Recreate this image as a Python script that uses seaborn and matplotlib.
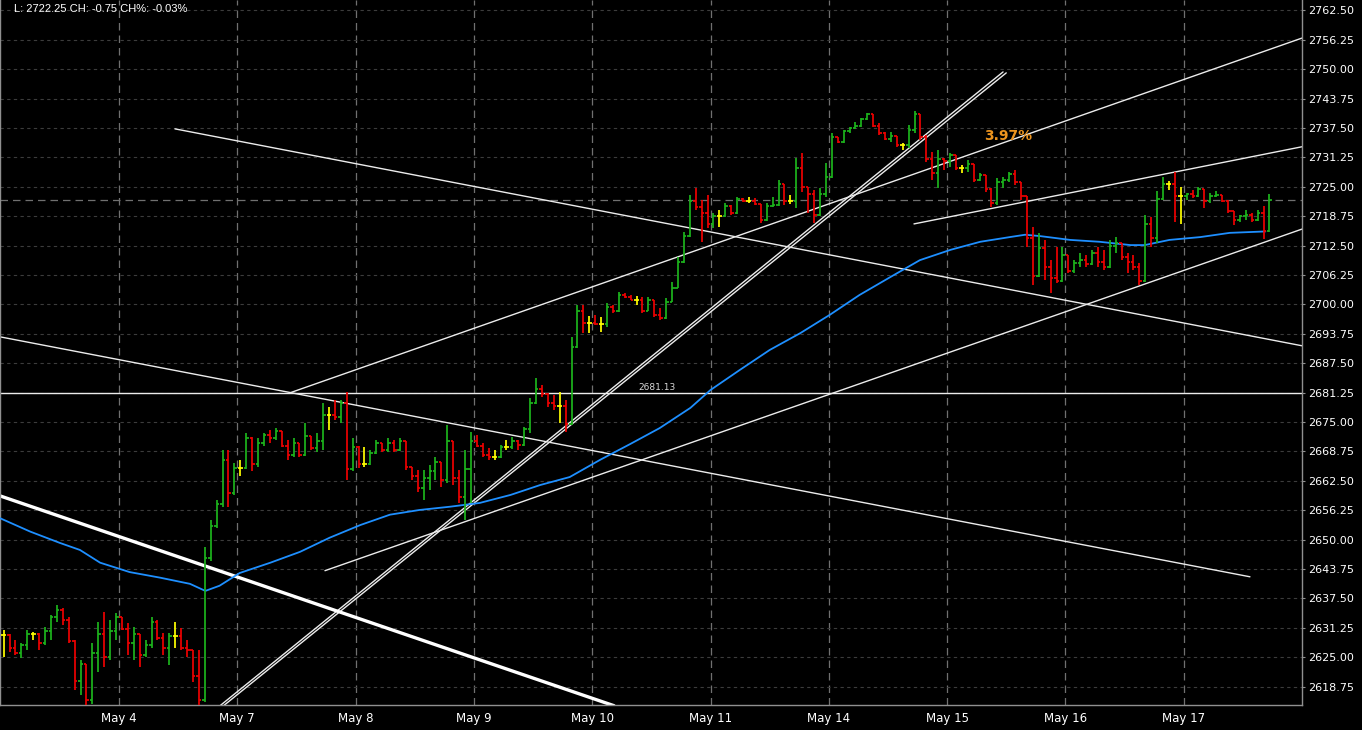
import numpy as np
import pandas as pd
import seaborn as sns
import matplotlib
matplotlib.use("Agg")
import matplotlib.pyplot as plt
from matplotlib.ticker import FormatStrFormatter

day_labels = ['May 4', 'May 7', 'May 8', 'May 9', 'May 10', 'May 11', 'May 14', 'May 15', 'May 16', 'May 17']
# sessions start at -1 (tail of previous day) ... 9 (May 17); bars per session
bars_per_session = [20, 20, 20, 20, 20, 20, 20, 20, 20, 20, 15]
first_open = 2629.8

highs = [
    # prev day
    2630.8, 2630.0, 2628.7, 2628.0, 2630.8, 2630.4, 2630.2, 2631.5, 2634.0, 2636.1,
    2635.5, 2633.5, 2628.7, 2624.4, 2623.5, 2628.0, 2632.5, 2634.6, 2632.9, 2634.5,
    # May 4
    2633.5, 2632.3, 2631.5, 2630.0, 2628.7, 2633.5, 2632.9, 2630.2, 2630.2, 2632.5,
    2631.2, 2628.7, 2626.6, 2626.6, 2648.5, 2654.2, 2658.4, 2669.1, 2669.1, 2666.3,
    # May 7
    2667.0, 2672.7, 2671.8, 2671.6, 2672.7, 2673.3, 2673.8, 2673.0, 2671.2, 2671.6,
    2670.6, 2674.8, 2672.0, 2672.7, 2679.0, 2678.2, 2679.7, 2679.7, 2681.4, 2671.6,
    # May 8
    2669.9, 2669.7, 2669.1, 2671.2, 2670.6, 2671.6, 2671.2, 2671.6, 2671.0, 2665.5,
    2664.8, 2664.8, 2665.9, 2667.6, 2666.5, 2674.4, 2671.0, 2664.8, 2669.1, 2672.9,
    # May 9
    2672.3, 2670.6, 2669.5, 2669.0, 2670.1, 2671.2, 2671.8, 2671.2, 2674.0, 2680.1,
    2684.4, 2682.9, 2681.2, 2680.8, 2681.4, 2679.7, 2693.1, 2699.9, 2699.9, 2697.5,
    # May 10
    2697.8, 2697.3, 2700.3, 2699.9, 2702.6, 2702.4, 2702.0, 2701.8, 2701.5, 2701.5,
    2701.0, 2699.2, 2701.3, 2704.8, 2710.1, 2715.4, 2723.3, 2724.7, 2722.2, 2723.3,
    # May 11
    2719.4, 2720.0, 2721.6, 2721.1, 2722.8, 2722.6, 2722.8, 2722.6, 2721.4, 2721.6,
    2722.8, 2726.4, 2725.5, 2723.2, 2731.1, 2732.2, 2725.0, 2724.3, 2724.7, 2730.0,
    # May 14
    2736.4, 2735.6, 2737.1, 2737.7, 2738.8, 2739.6, 2740.7, 2740.5, 2738.5, 2736.6,
    2736.6, 2735.8, 2734.3, 2738.1, 2741.1, 2740.5, 2736.0, 2732.4, 2732.8, 2731.1,
    # May 15
    2732.2, 2731.8, 2729.6, 2730.7, 2729.8, 2727.9, 2727.5, 2724.7, 2726.9, 2727.1,
    2728.1, 2728.6, 2726.0, 2723.0, 2716.5, 2715.2, 2713.7, 2709.4, 2712.2, 2712.2,
    # May 16
    2710.5, 2709.4, 2710.9, 2710.5, 2711.6, 2712.2, 2711.6, 2713.7, 2714.3, 2713.0,
    2710.9, 2710.5, 2708.8, 2719.0, 2718.6, 2724.0, 2727.1, 2726.2, 2728.1, 2725.0,
    # May 17
    2723.7, 2724.3, 2725.0, 2724.5, 2723.7, 2724.0, 2723.2, 2722.2, 2719.8, 2719.0,
    2720.1, 2719.4, 2720.1, 2721.0, 2723.5,
]
lows = [
    2625.1, 2626.1, 2625.5, 2624.8, 2626.6, 2628.7, 2626.6, 2627.6, 2628.7, 2632.5,
    2631.9, 2628.0, 2618.0, 2617.0, 2614.9, 2615.0, 2621.9, 2623.0, 2624.5, 2628.7,
    2630.8, 2625.5, 2624.4, 2623.0, 2625.0, 2627.0, 2628.7, 2625.5, 2623.4, 2627.0,
    2626.6, 2625.0, 2619.8, 2614.9, 2615.5, 2645.5, 2652.5, 2657.0, 2657.0, 2659.5,
    2663.5, 2665.0, 2664.5, 2665.5, 2670.0, 2670.6, 2671.2, 2669.7, 2667.0, 2667.6,
    2667.6, 2667.8, 2669.1, 2668.6, 2669.1, 2673.3, 2675.4, 2674.8, 2662.7, 2664.5,
    2665.2, 2665.5, 2665.8, 2668.3, 2668.6, 2668.6, 2668.6, 2668.8, 2664.8, 2662.7,
    2660.1, 2658.4, 2660.6, 2662.7, 2661.2, 2662.0, 2661.6, 2657.8, 2654.2, 2657.8,
    2669.7, 2667.6, 2667.0, 2667.0, 2667.3, 2669.1, 2669.3, 2669.1, 2669.8, 2672.7,
    2678.8, 2680.3, 2678.2, 2677.6, 2674.8, 2672.9, 2674.3, 2690.8, 2693.9, 2694.0,
    2695.6, 2694.2, 2695.2, 2698.2, 2698.4, 2701.3, 2700.9, 2699.9, 2698.2, 2698.5,
    2697.3, 2696.7, 2696.9, 2700.4, 2703.4, 2708.8, 2714.3, 2720.1, 2713.3, 2716.3,
    2716.3, 2716.5, 2718.6, 2719.0, 2719.3, 2721.8, 2721.5, 2721.1, 2717.3, 2717.8,
    2720.7, 2721.0, 2721.1, 2721.3, 2720.5, 2723.9, 2719.4, 2717.3, 2718.8, 2722.8,
    2726.8, 2734.3, 2734.4, 2736.4, 2737.2, 2737.8, 2739.2, 2737.7, 2736.0, 2734.9,
    2734.5, 2733.5, 2732.8, 2733.2, 2736.4, 2735.0, 2730.3, 2726.4, 2724.7, 2728.6,
    2729.2, 2728.6, 2728.0, 2728.1, 2726.0, 2726.2, 2723.9, 2720.7, 2721.2, 2724.7,
    2726.0, 2725.4, 2722.2, 2712.2, 2704.1, 2705.8, 2705.2, 2702.5, 2704.6, 2704.8,
    2706.7, 2706.7, 2708.0, 2708.0, 2708.3, 2708.0, 2707.3, 2707.8, 2710.9, 2709.4,
    2706.7, 2707.3, 2704.1, 2704.8, 2712.2, 2713.0, 2722.2, 2724.3, 2717.5, 2717.0,
    2722.2, 2722.6, 2722.8, 2720.5, 2721.6, 2722.8, 2721.8, 2719.4, 2716.9, 2717.5,
    2717.9, 2717.5, 2717.8, 2713.8, 2715.3,
]
closes = [
    2629.8, 2627.0, 2626.0, 2627.5, 2630.0, 2630.0, 2628.0, 2630.5, 2633.5, 2635.0,
    2633.0, 2628.5, 2620.0, 2623.5, 2616.0, 2626.0, 2630.0, 2625.0, 2630.5, 2633.5,
    2631.0, 2628.0, 2630.0, 2625.5, 2627.5, 2632.5, 2629.0, 2627.0, 2629.5, 2629.5,
    2627.0, 2626.5, 2621.0, 2616.0, 2646.0, 2653.0, 2657.5, 2667.0, 2660.0, 2665.3,
    2665.3, 2671.5, 2666.0, 2670.5, 2672.3, 2671.5, 2673.0, 2670.0, 2668.0, 2670.5,
    2668.0, 2672.0, 2669.5, 2671.0, 2676.5, 2676.5, 2676.0, 2679.0, 2665.0, 2669.7,
    2666.0, 2666.0, 2668.5, 2670.5, 2669.0, 2670.5, 2669.0, 2671.0, 2665.5, 2663.5,
    2661.0, 2663.0, 2664.5, 2666.5, 2662.7, 2671.0, 2663.0, 2659.0, 2665.0, 2671.0,
    2670.0, 2668.0, 2667.5, 2667.5, 2669.6, 2669.6, 2671.0, 2670.1, 2673.5, 2679.0,
    2682.0, 2681.0, 2679.0, 2678.5, 2678.5, 2674.5, 2691.0, 2698.5, 2696.0, 2696.0,
    2695.8, 2695.8, 2699.5, 2698.5, 2702.0, 2701.6, 2701.0, 2701.0, 2698.6, 2701.0,
    2697.8, 2697.0, 2700.5, 2703.5, 2709.0, 2714.5, 2722.0, 2720.8, 2719.5, 2717.0,
    2718.8, 2718.8, 2721.0, 2719.5, 2722.3, 2722.0, 2722.0, 2721.4, 2718.0, 2721.0,
    2721.2, 2725.5, 2722.0, 2722.0, 2729.0, 2725.0, 2723.5, 2719.0, 2723.5, 2727.0,
    2735.5, 2734.6, 2736.8, 2737.4, 2738.0, 2739.4, 2740.5, 2738.0, 2736.5, 2735.2,
    2735.8, 2733.8, 2733.8, 2737.0, 2740.5, 2735.5, 2731.0, 2728.0, 2731.0, 2730.5,
    2731.8, 2729.0, 2729.0, 2729.8, 2726.5, 2727.5, 2724.5, 2721.5, 2726.0, 2726.5,
    2727.8, 2726.0, 2723.0, 2714.0, 2706.0, 2712.0, 2708.0, 2705.5, 2705.0, 2710.5,
    2707.0, 2708.8, 2709.5, 2708.5, 2711.0, 2709.0, 2708.0, 2712.5, 2713.0, 2710.0,
    2709.0, 2708.0, 2705.0, 2717.0, 2714.0, 2722.5, 2725.5, 2725.5, 2723.0, 2723.0,
    2723.5, 2723.0, 2724.5, 2722.0, 2723.0, 2723.2, 2722.0, 2719.8, 2718.0, 2718.8,
    2719.0, 2718.0, 2719.5, 2715.5, 2722.25,
]

# moving average, read at points (time in days from May 4)
ma_time = [-1.01, -0.75, -0.50, -0.33, -0.16, 0.09, 0.35, 0.60, 0.73, 0.85, 1.02, 1.28,
           1.53, 1.78, 2.04, 2.29, 2.54, 2.80, 3.05, 3.31, 3.56, 3.81, 4.07, 4.32, 4.57,
           4.83, 5.00, 5.25, 5.50, 5.76, 6.01, 6.26, 6.52, 6.77, 7.03, 7.28, 7.53, 7.66,
           7.79, 8.04, 8.29, 8.55, 8.67, 8.88, 9.14, 9.39, 9.69]
ma_value = [2654.6, 2651.7, 2649.3, 2647.8, 2645.1, 2643.1, 2641.9, 2640.6, 2639.1, 2640.2,
            2642.9, 2645.1, 2647.4, 2650.4, 2653.1, 2655.3, 2656.3, 2657.0, 2657.8, 2659.5,
            2661.6, 2663.3, 2667.0, 2670.3, 2673.7, 2678.0, 2681.8, 2686.1, 2690.3, 2693.9,
            2697.8, 2702.0, 2705.8, 2709.4, 2711.6, 2713.3, 2714.3, 2714.8, 2714.5, 2713.7,
            2713.3, 2712.6, 2712.6, 2713.7, 2714.3, 2715.2, 2715.5]

# trend lines: (t0, p0, t1, p1)
trend_thin = [(-1.006, 2693.1, 9.56, 2642.1),
              (0.473, 2737.3, 10.0, 2691.2),
              (1.445, 2681.2, 10.0, 2756.6),
              (1.741, 2643.4, 10.0, 2716.0),
              (6.72, 2717.1, 10.0, 2733.5),
              (0.854, 2614.7, 7.473, 2749.4),
              (0.884, 2614.7, 7.50, 2749.2)]
trend_thick = (-1.006, 2659.3, 4.184, 2614.7)
level_price = 2681.13
last_price = 2722.25

# ---- build bar table
t = []
for s, n in enumerate(bars_per_session):
    for k in range(n):
        t.append(s - 1 + (k + 0.5) / 20)
df = pd.DataFrame({'t': t, 'high': highs, 'low': lows, 'close': closes})
df['open'] = df['close'].shift(1).fillna(first_open)
green, red, yellow = '#1cb41c', '#ee0000', '#ffff00'
df['color'] = np.where(df['close'] > df['open'], green,
                       np.where(df['close'] < df['open'], red, yellow))

sns.set_style("dark")
plt.rcParams['font.family'] = ['DejaVu Sans']

fig = plt.figure(figsize=(13.62, 7.30), dpi=100, facecolor='black')
ax = fig.add_axes([0, 25 / 730, 1302 / 1362, 705 / 730])
ax.set_facecolor('black')

# grid
ax.set_yticks(np.arange(2618.75, 2762.51, 6.25))
ax.yaxis.set_major_formatter(FormatStrFormatter('%.2f'))
ax.set_xticks(range(len(day_labels)))
ax.set_xticklabels(day_labels)
ax.yaxis.grid(True, color='#3c3c3c', linestyle=(0, (3, 3)), lw=0.8)
ax.xaxis.grid(True, color='#707070', linestyle=(0, (6, 4)), lw=0.9)
ax.set_axisbelow(True)
ax.axhline(last_price, color='#707070', ls=(0, (6, 4)), lw=0.9, zorder=1)

# trend lines
for t0, p0, t1, p1 in trend_thin:
    ax.plot([t0, t1], [p0, p1], color='#ececec', lw=1.0, zorder=2)
ax.plot(trend_thick[::2], trend_thick[1::2], color='white', lw=2.4, zorder=2)
ax.axhline(level_price, color='#ececec', lw=1.0, zorder=2)
ax.text(4.548, level_price + 1.3, f'{level_price:.2f}', color='#d8d8d8', fontsize=6.5,
        ha='center', va='center')

# moving average
sns.lineplot(data=pd.DataFrame({'t': ma_time, 'ma': ma_value}), x='t', y='ma',
             color='#1e8fff', lw=1.3, ax=ax, legend=False, zorder=3)

# OHLC bars
w = 0.021
lo = df[['low', 'open', 'close']].min(axis=1)
hi = df[['high', 'open', 'close']].max(axis=1)
ax.vlines(df['t'], lo, hi, colors=df['color'], lw=1.25, zorder=4)
ax.hlines(df['open'], df['t'] - w, df['t'], colors=df['color'], lw=1.25, zorder=4)
ax.hlines(df['close'], df['t'], df['t'] + w, colors=df['color'], lw=1.25, zorder=4)

ax.text(7.515, 2735.8, '3.97%', color='#ec941e', fontsize=10, fontweight='bold',
        ha='center', va='center', zorder=5)

ax.set_xlim(-1.006, 10.0)
ax.set_ylim(2614.85, 2764.69)
ax.set_xlabel('')
ax.set_ylabel('')
ax.yaxis.tick_right()
ax.tick_params(axis='y', colors='#909090', labelcolor='white', labelsize=8, length=2.5,
               width=0.8, pad=1.8)
ax.tick_params(axis='x', colors='#909090', labelcolor='white', labelsize=8.5, length=3,
               width=0.8, pad=2)
for side in ['right', 'bottom', 'left']:
    ax.spines[side].set_visible(True)
    ax.spines[side].set_color('#909090')
    ax.spines[side].set_linewidth(1.0)
ax.spines['top'].set_visible(False)

fig.text(14 / 1362, 1 - 9 / 730, 'L: 2722.25 CH: -0.75 CH%: -0.03%', color='white',
         fontsize=8, ha='left', va='center', family=['Liberation Sans', 'DejaVu Sans'])

fig.savefig('out.png', dpi=100, facecolor='black')
